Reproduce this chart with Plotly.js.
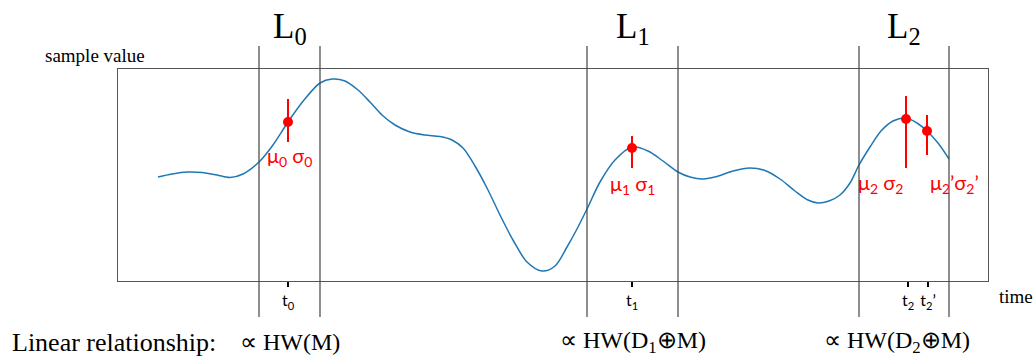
<!DOCTYPE html>
<html>
<head>
<meta charset="utf-8">
<script src="https://cdn.plot.ly/plotly-3.0.1.min.js"></script>
<style>html,body{margin:0;padding:0;background:#fff;}#chart{width:1035px;height:358px;}</style>
</head>
<body>
<div id="chart"></div>
<script>
// Signal curve (time, sample value)
const time = [158,172,187,202,217,230,243,259,273,288,304,320,332,345,358,370,382,395,410,425,440,452,463,475,487,500,513,527,542,555,567,577,587,600,615,632,648,663,678,690,703,717,733,750,765,780,795,808,818,829,840,850,859,870,881,893,906,917,927,938,949];
const sampleValue = [104,107,109,108.5,106,103.5,107,119,136,159,181,198,202,200,191,179,166,156,149,146,144.5,141,133,115,93,66,41,19,10,15,34,52,72,99,121,134,130,120,109,104,102,104.5,110,113,110.5,102,90,81,78,80,86,98,116,134,150,160,163,158,150,138,122];

// Measurement points (mu) with asymmetric spread (sigma)
const pointTime = [288, 632, 906, 927];
const pointMean = [159, 133, 162, 150];
const pointUp = [23, 12, 23, 16];
const pointDown = [20, 20, 49, 24];
const pointLabels = ['μ<sub>0</sub> σ<sub>0</sub>', 'μ<sub>1</sub> σ<sub>1</sub>', 'μ<sub>2</sub> σ<sub>2</sub>', 'μ<sub>2</sub>’σ<sub>2</sub>’'];

// Leakage windows
const windowStart = [259, 587, 859];
const windowEnd = [320, 678, 949];
const windowLabels = ['L<sub>0</sub>', 'L<sub>1</sub>', 'L<sub>2</sub>'];
const relationLabels = ['∝ HW(M)', '∝ HW(D<sub>1</sub>⊕M)', '∝ HW(D<sub>2</sub>⊕M)'];

// Time ticks
const tickTimes = [288, 632, 908, 928];
const tickLabels = ['t<sub>0</sub>', 't<sub>1</sub>', 't<sub>2</sub>', 't<sub>2</sub>’'];

// Label placement (layout)
const labelPos = [[289, 125], [632, 97], [880, 98], [954, 98]];
const relationShift = [0, 0, -7];

const serif = 'Liberation Serif';
const sans = 'Lato';

const traces = [
  {
    x: time, y: sampleValue, type: 'scatter', mode: 'lines',
    line: {color: '#1f77b4', width: 1.5, shape: 'spline', smoothing: 0.9},
    hoverinfo: 'skip'
  },
  {
    x: pointTime, y: pointMean, type: 'scatter', mode: 'markers',
    marker: {color: '#ff0000', size: 10},
    error_y: {type: 'data', symmetric: false, array: pointUp, arrayminus: pointDown,
              color: '#ff0000', thickness: 2, width: 0},
    hoverinfo: 'skip'
  }
];

const shapes = [];
windowStart.concat(windowEnd).forEach(function (t) {
  shapes.push({type: 'line', xref: 'x', yref: 'paper', x0: t, x1: t, y0: -0.17, y1: 1.108,
               line: {color: '#444', width: 1.2}, layer: 'above'});
});

const annotations = [];
windowStart.forEach(function (s, i) {
  const c = (s + windowEnd[i]) / 2;
  annotations.push({x: c, y: 1.19, xref: 'x', yref: 'paper', text: windowLabels[i], showarrow: false,
                    xanchor: 'center', yanchor: 'middle', font: {family: serif, size: 35, color: '#000'}});
  annotations.push({x: c, y: -0.29, xref: 'x', yref: 'paper', xshift: relationShift[i], text: relationLabels[i], showarrow: false,
                    xanchor: 'center', yanchor: 'middle', font: {family: serif, size: 24, color: '#000'}});
});
pointLabels.forEach(function (lbl, i) {
  annotations.push({x: labelPos[i][0], y: labelPos[i][1], xref: 'x', yref: 'y', text: lbl, showarrow: false,
                    xanchor: 'center', yanchor: 'middle', font: {family: sans, size: 20, color: '#ff0000'}});
});
annotations.push({x: -0.086, y: 1.066, xref: 'paper', yref: 'paper', text: 'sample value', showarrow: false,
                  xanchor: 'left', yanchor: 'middle', font: {family: serif, size: 19, color: '#000'}});
annotations.push({x: 1.01, y: -0.075, xref: 'paper', yref: 'paper', text: 'time', showarrow: false,
                  xanchor: 'left', yanchor: 'middle', font: {family: serif, size: 19, color: '#000'}});
annotations.push({x: -0.124, y: -0.29, xref: 'paper', yref: 'paper', text: 'Linear relationship:', showarrow: false,
                  xanchor: 'left', yanchor: 'middle', font: {family: serif, size: 26, color: '#000'}});

const layout = {
  width: 1035, height: 358,
  margin: {l: 118, r: 47, t: 69, b: 77},
  paper_bgcolor: '#fff', plot_bgcolor: '#fff',
  showlegend: false,
  xaxis: {
    range: [118, 988], showgrid: false, zeroline: false,
    showline: true, mirror: true, linecolor: '#555', linewidth: 1,
    tickmode: 'array', tickvals: tickTimes, ticktext: tickLabels,
    ticks: 'outside', ticklen: 5, tickwidth: 1.5, tickcolor: '#000',
    tickfont: {family: sans, size: 16, color: '#000'}
  },
  yaxis: {
    range: [0, 212], showgrid: false, zeroline: false,
    showline: true, mirror: true, linecolor: '#555', linewidth: 1,
    showticklabels: false, ticks: ''
  },
  shapes: shapes,
  annotations: annotations
};

Plotly.newPlot('chart', traces, layout, {displayModeBar: false, staticPlot: true});
</script>
</body>
</html>
